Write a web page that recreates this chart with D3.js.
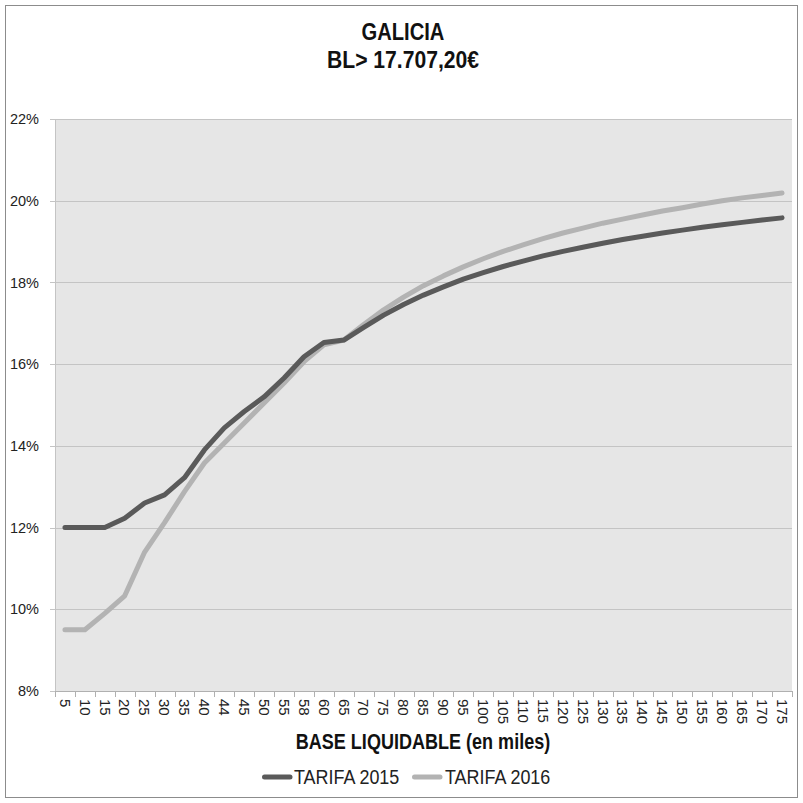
<!DOCTYPE html>
<html><head><meta charset="utf-8">
<script src="https://cdn.jsdelivr.net/npm/d3@7"></script>
<style>body{margin:0;background:#fff}svg{display:block}</style>
</head><body>
<svg id="chart" width="803" height="803"></svg>
<script>
const categories = [5,10,15,20,25,30,35,40,44,45,50,55,58,60,65,70,75,80,85,90,95,100,105,110,115,120,125,130,135,140,145,150,155,160,165,170,175];
const tarifa2015 = [12.0,12.0,12.0,12.23,12.6,12.8,13.22,13.9,14.44,14.84,15.2,15.66,16.18,16.53,16.59,16.90,17.20,17.46,17.69,17.89,18.08,18.24,18.39,18.52,18.65,18.76,18.86,18.96,19.05,19.13,19.21,19.28,19.35,19.41,19.47,19.53,19.58];
const tarifa2016 = [9.5,9.5,9.9,10.33,11.4,12.12,12.88,13.58,14.07,14.56,15.05,15.54,16.06,16.47,16.59,16.97,17.33,17.64,17.92,18.16,18.38,18.58,18.76,18.92,19.07,19.21,19.33,19.45,19.55,19.65,19.75,19.83,19.92,20.0,20.07,20.13,20.19];
const yTicks = [8,10,12,14,16,18,20,22];
const seriesNames = ["TARIFA 2015","TARIFA 2016"];
const seriesColors = ["#5a5a5a","#b3b3b3"];
const titleLines = ["GALICIA","BL> 17.707,20€"];
const xTitle = "BASE LIQUIDABLE (en miles)";

(function(){
const svg = d3.select("#chart");
const font = "'Liberation Sans',Arial,sans-serif";
const pL=55, pR=792, pT=119, pB=691;

svg.append("rect").attr("x",5.5).attr("y",5.5).attr("width",792).attr("height",792)
  .attr("fill","#fff").attr("stroke","#8c8c8c").attr("stroke-width",1);

const x = d3.scaleBand().domain(categories).range([pL,pR]);
const y = d3.scaleLinear().domain([8,22]).range([pB,pT]);

svg.append("rect").attr("x",pL).attr("y",pT).attr("width",pR-pL).attr("height",pB-pT).attr("fill","#e6e6e6");

svg.append("g").selectAll("line").data(yTicks).join("line")
  .attr("x1",pL-5).attr("x2",pR).attr("y1",d=>Math.round(y(d))+0.5).attr("y2",d=>Math.round(y(d))+0.5)
  .attr("stroke","#c4c4c4").attr("stroke-width",1);

svg.append("line").attr("x1",pL+0.5).attr("x2",pL+0.5).attr("y1",pT).attr("y2",pB)
  .attr("stroke","#c4c4c4");

const yAxis = svg.append("g").attr("transform",`translate(${pL-5},0)`)
  .call(d3.axisLeft(y).tickValues(yTicks).tickSize(0).tickFormat(d=>d+"%"));
yAxis.select(".domain").remove();
yAxis.selectAll("text").attr("font-family",font).attr("font-size",14.5).attr("fill","#222").attr("dx",-8);

svg.append("line").attr("x1",pL).attr("x2",pR).attr("y1",pB+0.5).attr("y2",pB+0.5).attr("stroke","#b0b0b0");
const bounds = categories.map(c=>x(c)).concat([pR]);
svg.append("g").selectAll("line").data(bounds).join("line")
  .attr("x1",d=>Math.round(d)+0.5).attr("x2",d=>Math.round(d)+0.5).attr("y1",pB).attr("y2",pB+6)
  .attr("stroke","#b0b0b0");

const xAxis = svg.append("g").attr("transform",`translate(0,${pB})`)
  .call(d3.axisBottom(x).tickSize(0));
xAxis.select(".domain").remove();
xAxis.selectAll("text")
  .attr("font-family",font).attr("font-size",15).attr("fill","#222")
  .attr("text-anchor","start").attr("transform","rotate(90)")
  .attr("x",8).attr("y",0).attr("dy","0.35em");

const line = d3.line().x((d,i)=>x(categories[i])+x.bandwidth()/2).y(d=>y(d));
[[tarifa2016,1],[tarifa2015,0]].forEach(([s,idx])=>{
  svg.append("path").datum(s).attr("d",line).attr("fill","none")
    .attr("stroke",seriesColors[idx]).attr("stroke-width",5)
    .attr("stroke-linejoin","round").attr("stroke-linecap","round");
});

const titleScale = [0.84,0.88];
svg.selectAll("text.title").data(titleLines).join("text").attr("class","title")
  .attr("transform",(d,i)=>`translate(403,${39.5+i*28}) scale(${titleScale[i]},1)`).attr("text-anchor","middle")
  .attr("font-family",font).attr("font-weight","bold").attr("font-size",24).attr("fill","#111").text(d=>d);

svg.append("text").attr("transform","translate(423,749) scale(0.82,1)").attr("text-anchor","middle")
  .attr("font-family",font).attr("font-weight","bold").attr("font-size",22).attr("fill","#111").text(xTitle);

const legendX = [262,412];
const legendTextX = [294,445];
seriesNames.forEach((n,i)=>{
  svg.append("line").attr("x1",legendX[i]+2.5).attr("x2",legendX[i]+28).attr("y1",777).attr("y2",777)
    .attr("stroke",seriesColors[i]).attr("stroke-width",5).attr("stroke-linecap","round");
  svg.append("text").attr("transform",`translate(${legendTextX[i]},784) scale(0.875,1)`)
    .attr("font-family",font).attr("font-size",20.5).attr("fill","#222").text(n);
});
})();
</script>
</body></html>
